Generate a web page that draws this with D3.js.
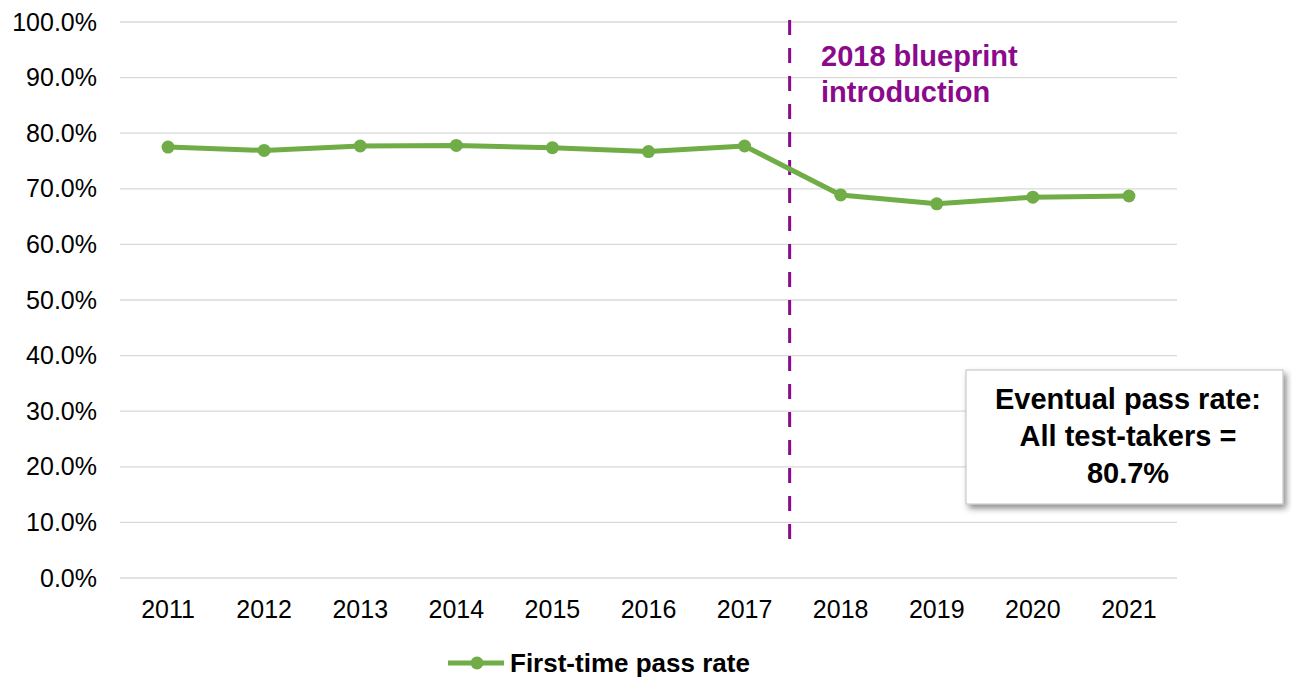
<!DOCTYPE html>
<html>
<head>
<meta charset="utf-8">
<script src="https://cdn.jsdelivr.net/npm/d3@7"></script>
<style>
  body { margin: 0; background: #fff; }
  svg text { font-family: "Liberation Sans", Arial, sans-serif; }
</style>
</head>
<body>
<div id="chart"></div>
<script>
const years = ["2011","2012","2013","2014","2015","2016","2017","2018","2019","2020","2021"];
const passRate = [77.5, 76.9, 77.7, 77.8, 77.4, 76.7, 77.7, 68.9, 67.3, 68.5, 68.7];
const yTicks = [0, 10, 20, 30, 40, 50, 60, 70, 80, 90, 100];
const seriesName = "First-time pass rate";
const noteLines = ["2018 blueprint", "introduction"];
const boxLines = ["Eventual pass rate:", "All test-takers =", "80.7%"];

const width = 1292, height = 677;
const green = "#70ad47", purple = "#8b0a8c";

const svg = d3.select("#chart").append("svg")
  .attr("width", width).attr("height", height);

const x = d3.scaleBand().domain(years).range([120, 1177]);
const y = d3.scaleLinear().domain([0, 100]).range([578, 22]);

// gridlines
svg.append("g").selectAll("line").data(yTicks).join("line")
  .attr("x1", 120).attr("x2", 1177)
  .attr("y1", d => y(d)).attr("y2", d => y(d))
  .attr("stroke", "#d9d9d9").attr("stroke-width", 1.3);

// y axis labels
const yAxis = d3.axisLeft(y).tickValues(yTicks).tickSize(0).tickPadding(0)
  .tickFormat(d => d.toFixed(1) + "%");
svg.append("g").attr("transform", "translate(97,0)").call(yAxis)
  .attr("font-size", 25).attr("font-family", null)
  .call(g => g.select(".domain").remove())
  .selectAll("text").attr("fill", "#000");

// x axis labels
const xAxis = d3.axisBottom(x).tickSize(0).tickPadding(0);
svg.append("g").attr("transform", "translate(0,600)").call(xAxis)
  .attr("font-size", 25).attr("font-family", null)
  .call(g => g.select(".domain").remove())
  .selectAll("text").attr("fill", "#000");

// dashed divider between 2017 and 2018
const divX = (x("2017") + x("2018") + x.bandwidth()) / 2 - 3;
svg.append("line")
  .attr("x1", divX).attr("x2", divX).attr("y1", 20).attr("y2", 550)
  .attr("stroke", purple).attr("stroke-width", 3)
  .attr("stroke-dasharray", "15,13");

svg.append("g").selectAll("text").data(noteLines).join("text")
  .attr("x", 821).attr("y", (d, i) => 66 + i * 36)
  .attr("font-size", 29).attr("font-weight", "bold").attr("fill", purple)
  .text(d => d);

// line + markers
const cx = d => x(d) + x.bandwidth() / 2;
const line = d3.line().x((d, i) => cx(years[i])).y(d => y(d));
svg.append("path").datum(passRate)
  .attr("d", line).attr("fill", "none")
  .attr("stroke", green).attr("stroke-width", 5).attr("stroke-linejoin", "round");
svg.append("g").selectAll("circle").data(passRate).join("circle")
  .attr("cx", (d, i) => cx(years[i])).attr("cy", d => y(d)).attr("r", 6.5)
  .attr("fill", green);

// text box with shadow
const defs = svg.append("defs");
const f = defs.append("filter").attr("id", "shadow")
  .attr("x", "-10%").attr("y", "-10%").attr("width", "130%").attr("height", "140%");
f.append("feDropShadow").attr("dx", 3).attr("dy", 4).attr("stdDeviation", 3)
  .attr("flood-color", "#000").attr("flood-opacity", 0.45);
svg.append("rect")
  .attr("x", 966).attr("y", 370).attr("width", 317).attr("height", 134)
  .attr("fill", "#fff").attr("stroke", "#bfbfbf").attr("stroke-width", 1)
  .attr("filter", "url(#shadow)");
svg.append("g").selectAll("text").data(boxLines).join("text")
  .attr("x", 1128).attr("y", (d, i) => 409 + i * 37)
  .attr("text-anchor", "middle")
  .attr("font-size", 29).attr("font-weight", "bold").attr("fill", "#000")
  .text(d => d);

// legend
const lg = svg.append("g").attr("transform", "translate(448,663)");
lg.append("line").attr("x1", 0).attr("x2", 56).attr("y1", 0).attr("y2", 0)
  .attr("stroke", green).attr("stroke-width", 5);
lg.append("circle").attr("cx", 29).attr("cy", 0).attr("r", 6.5).attr("fill", green);
lg.append("text").attr("x", 62).attr("y", 9)
  .attr("font-size", 26).attr("font-weight", "bold").attr("fill", "#000")
  .text(seriesName);
</script>
</body>
</html>
